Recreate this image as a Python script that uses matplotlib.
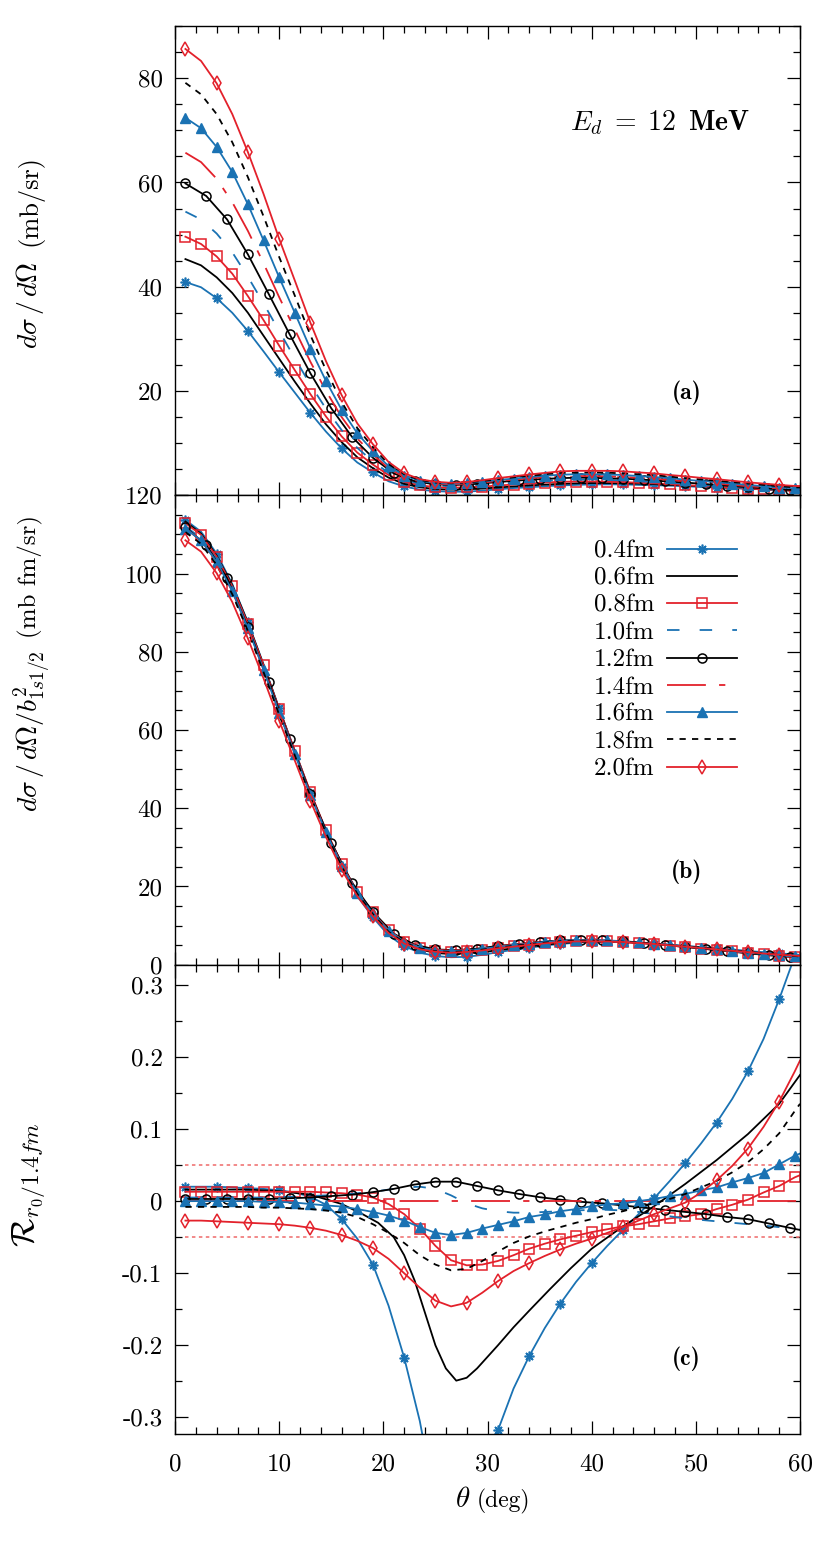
import matplotlib.pyplot as plt
from matplotlib.ticker import MultipleLocator, FixedLocator

plt.rcParams['font.family'] = 'cmr10'
plt.rcParams['mathtext.fontset'] = 'cm'
plt.rcParams['axes.unicode_minus'] = False
plt.rcParams['lines.scale_dashes'] = False

blue = '#1a72b3'
red = '#e3212b'

# angle grids (deg)
theta = [1, 2.5, 4, 5.5, 7, 8.5, 10, 11.5, 13, 14.5, 16, 17.5, 19, 20.5, 22, 23.5,
         25, 26.5, 28, 29.5, 31, 32.5, 34, 35.5, 37, 38.5, 40, 41.5, 43, 44.5, 46,
         47.5, 49, 50.5, 52, 53.5, 55, 56.5, 58, 59.5, 60]
theta_c = [1, 3, 5, 7, 9, 11, 13, 15, 17, 19, 21, 23, 25, 27, 29, 31, 33, 35, 37,
           39, 41, 43, 45, 47, 49, 51, 53, 55, 57, 59, 60]
theta_06c = [1, 4, 7, 10, 13, 16, 18, 19.5, 21, 22, 23, 24, 25, 26, 27, 28, 29, 30, 31,
             32.5, 34, 36, 38, 40, 43, 46, 49, 52, 55, 58, 60]

labels = ['0.4fm', '0.6fm', '0.8fm', '1.0fm', '1.2fm', '1.4fm', '1.6fm', '1.8fm', '2.0fm']

#################################################################
# (a) dsigma/dOmega (mb/sr)
a04 = [40.9, 39.9, 37.8, 35.0, 31.5, 27.6, 23.6, 19.7, 15.8, 12.2, 9.0, 6.3, 4.4, 2.7, 1.7, 1.1,
       0.8, 0.7, 0.7, 0.9, 1.15, 1.4, 1.55, 1.75, 1.9, 2.0, 2.1, 2.1, 2.1, 2.0, 1.95,
       1.85, 1.75, 1.6, 1.5, 1.4, 1.25, 1.15, 1.05, 0.95, 0.9]
a06 = [45.3, 44.1, 41.8, 38.8, 35.0, 30.6, 26.2, 21.8, 17.6, 13.6, 10.2, 7.3, 5.2, 3.4, 2.2, 1.55,
       1.2, 1.1, 1.15, 1.3, 1.5, 1.7, 1.9, 2.05, 2.2, 2.3, 2.35, 2.35, 2.3, 2.25, 2.15,
       2.0, 1.9, 1.75, 1.6, 1.45, 1.3, 1.15, 1.0, 0.9, 0.9]
a08 = [49.6, 48.2, 45.8, 42.5, 38.2, 33.6, 28.7, 24.0, 19.4, 15.1, 11.3, 8.2, 5.9, 3.9, 2.6, 1.9,
       1.6, 1.45, 1.55, 1.65, 1.9, 2.05, 2.25, 2.45, 2.6, 2.65, 2.65, 2.6, 2.55, 2.4, 2.3,
       2.15, 1.95, 1.8, 1.65, 1.5, 1.3, 1.15, 1.0, 0.9, 0.85]
a10 = [54.4, 52.9, 50.2, 46.6, 41.9, 36.8, 31.5, 26.3, 21.2, 16.6, 12.5, 9.1, 6.5, 4.3, 3.0, 2.2,
       1.9, 1.75, 1.85, 2.0, 2.25, 2.4, 2.6, 2.8, 2.95, 3.0, 3.0, 2.95, 2.85, 2.7, 2.55,
       2.4, 2.2, 2.0, 1.8, 1.6, 1.4, 1.2, 1.05, 0.9, 0.85]
a12 = [59.8, 57.4, 52.9, 46.2, 38.6, 30.9, 23.4, 16.7, 11.2, 7.2, 4.2, 2.7, 2.1, 2.0, 2.2, 2.55,
       2.85, 3.1, 3.3, 3.4, 3.3, 3.2, 3.0, 2.7, 2.45, 2.15, 1.85, 1.55, 1.3, 1.05, 0.95]
a14 = [65.7, 63.9, 60.7, 56.2, 50.7, 44.5, 38.0, 31.8, 25.6, 20.0, 15.0, 10.9, 7.8, 5.2, 3.5, 2.65,
       2.25, 2.1, 2.25, 2.45, 2.75, 3.0, 3.25, 3.5, 3.65, 3.7, 3.7, 3.65, 3.55, 3.35, 3.2,
       2.95, 2.7, 2.45, 2.25, 2.0, 1.75, 1.55, 1.3, 1.15, 1.1]
a16 = [72.4, 70.4, 66.8, 62.0, 55.8, 48.9, 41.8, 35.0, 28.1, 21.9, 16.4, 11.9, 8.5, 5.6, 3.8, 2.8,
       2.35, 2.25, 2.35, 2.65, 2.95, 3.2, 3.5, 3.75, 3.95, 4.05, 4.05, 4.0, 3.9, 3.7, 3.5,
       3.3, 3.0, 2.75, 2.55, 2.25, 2.0, 1.75, 1.5, 1.35, 1.25]
a18 = [79.1, 76.9, 73.1, 67.7, 61.0, 53.5, 45.7, 38.3, 30.7, 24.0, 17.9, 12.9, 9.2, 6.0, 4.05, 2.95,
       2.45, 2.3, 2.45, 2.75, 3.1, 3.45, 3.75, 4.05, 4.3, 4.35, 4.4, 4.35, 4.2, 4.05, 3.85,
       3.6, 3.3, 3.05, 2.8, 2.55, 2.25, 2.0, 1.75, 1.55, 1.5]
a20 = [85.6, 83.3, 79.0, 73.1, 65.8, 57.8, 49.2, 41.2, 33.1, 25.7, 19.2, 13.8, 9.8, 6.4, 4.25, 3.1,
       2.6, 2.4, 2.55, 2.9, 3.3, 3.65, 4.0, 4.3, 4.6, 4.7, 4.7, 4.7, 4.6, 4.4, 4.2,
       3.9, 3.65, 3.35, 3.1, 2.8, 2.5, 2.25, 2.0, 1.8, 1.75]

#################################################################
# (b) dsigma/dOmega / b^2 (mb fm/sr)
b04 = [113.7, 110.7, 105.1, 97.3, 87.5, 76.8, 65.5, 54.6, 43.8, 33.8, 24.9, 17.5, 12.1, 7.5, 4.7, 3.1,
       2.2, 1.9, 2.0, 2.5, 3.2, 3.8, 4.3, 4.9, 5.3, 5.6, 5.8, 5.8, 5.8, 5.6, 5.4,
       5.1, 4.8, 4.5, 4.2, 3.9, 3.5, 3.2, 2.9, 2.6, 2.5]
b06 = [113.3, 110.2, 104.6, 97.0, 87.4, 76.6, 65.4, 54.6, 43.9, 34.1, 25.4, 18.2, 13.0, 8.4, 5.5, 3.9,
       3.0, 2.7, 2.9, 3.2, 3.7, 4.2, 4.7, 5.1, 5.5, 5.8, 5.9, 5.9, 5.8, 5.6, 5.4,
       5.0, 4.7, 4.4, 4.0, 3.65, 3.3, 2.9, 2.55, 2.25, 2.2]
b08 = [112.9, 109.9, 104.3, 96.7, 87.1, 76.5, 65.3, 54.7, 44.1, 34.4, 25.8, 18.7, 13.4, 8.8, 5.9, 4.3,
       3.6, 3.3, 3.5, 3.8, 4.3, 4.7, 5.1, 5.55, 5.9, 6.0, 6.0, 5.95, 5.8, 5.5, 5.25,
       4.9, 4.5, 4.1, 3.75, 3.4, 3.0, 2.6, 2.3, 2.0, 1.9]
b10 = [112.1, 109.0, 103.5, 96.0, 86.4, 75.9, 64.9, 54.3, 43.8, 34.3, 25.7, 18.7, 13.5, 8.9, 6.1, 4.6,
       3.9, 3.6, 3.8, 4.15, 4.6, 5.0, 5.4, 5.8, 6.1, 6.2, 6.2, 6.1, 5.9, 5.6, 5.3,
       4.9, 4.5, 4.1, 3.7, 3.3, 2.9, 2.5, 2.2, 1.9, 1.8]
b12 = [111.8, 107.3, 98.8, 86.3, 72.2, 57.7, 43.7, 31.2, 20.9, 13.5, 7.9, 5.1, 3.9, 3.7, 4.1, 4.8,
       5.3, 5.8, 6.2, 6.3, 6.2, 5.95, 5.55, 5.1, 4.55, 4.0, 3.45, 2.9, 2.4, 2.0, 1.8]
b14 = [111.5, 108.5, 103.0, 95.5, 86.0, 75.5, 64.5, 54.0, 43.5, 34.0, 25.5, 18.5, 13.3, 8.8, 6.0, 4.5,
       3.8, 3.6, 3.8, 4.2, 4.7, 5.1, 5.5, 5.9, 6.2, 6.3, 6.3, 6.2, 6.0, 5.7, 5.4,
       5.0, 4.6, 4.2, 3.8, 3.4, 3.0, 2.6, 2.25, 1.95, 1.85]
b16 = [111.5, 108.5, 103.0, 95.5, 86.0, 75.4, 64.4, 53.9, 43.3, 33.8, 25.3, 18.3, 13.1, 8.6, 5.85, 4.35,
       3.65, 3.45, 3.65, 4.05, 4.55, 4.95, 5.4, 5.8, 6.1, 6.25, 6.25, 6.2, 6.0, 5.7, 5.4,
       5.05, 4.65, 4.25, 3.9, 3.5, 3.1, 2.7, 2.35, 2.1, 1.95]
b18 = [110.6, 107.6, 102.2, 94.7, 85.3, 74.8, 63.9, 53.5, 43.0, 33.6, 25.1, 18.1, 12.9, 8.4, 5.65, 4.15,
       3.45, 3.25, 3.45, 3.85, 4.35, 4.8, 5.25, 5.65, 6.0, 6.1, 6.15, 6.1, 5.9, 5.65, 5.4,
       5.0, 4.65, 4.3, 3.9, 3.55, 3.15, 2.8, 2.45, 2.2, 2.1]
b20 = [108.5, 105.6, 100.1, 92.7, 83.4, 73.2, 62.4, 52.2, 41.9, 32.6, 24.3, 17.5, 12.4, 8.1, 5.4, 3.95,
       3.3, 3.05, 3.25, 3.65, 4.2, 4.6, 5.05, 5.45, 5.8, 5.95, 5.95, 5.95, 5.8, 5.55, 5.3,
       4.95, 4.6, 4.25, 3.9, 3.55, 3.2, 2.85, 2.55, 2.3, 2.2]

#################################################################
# (c) ratio to r0 = 1.4 fm
r04 = [0.02, 0.02, 0.02, 0.019, 0.018, 0.017, 0.015, 0.012, 0.006, -0.005, -0.025, -0.052, -0.088,
       -0.145, -0.217, -0.305, -0.42, -0.48, -0.47, -0.40, -0.318, -0.26, -0.215, -0.176, -0.142,
       -0.112, -0.086, -0.062, -0.04, -0.018, 0.004, 0.028, 0.053, 0.08, 0.109, 0.142, 0.18,
       0.225, 0.28, 0.34, 0.36]
r06 = [0.016, 0.016, 0.016, 0.014, 0.009, -0.004, -0.018, -0.03, -0.05, -0.075, -0.11, -0.155,
       -0.2, -0.232, -0.249, -0.245, -0.232, -0.216, -0.2, -0.175, -0.152, -0.122, -0.093, -0.066,
       -0.035, -0.007, 0.024, 0.057, 0.093, 0.135, 0.175]
r08 = [0.013, 0.013, 0.013, 0.013, 0.013, 0.013, 0.013, 0.013, 0.013, 0.012, 0.011, 0.009, 0.005,
       -0.004, -0.018, -0.038, -0.062, -0.082, -0.089, -0.088, -0.083, -0.075, -0.066, -0.059,
       -0.053, -0.048, -0.043, -0.039, -0.035, -0.032, -0.028, -0.024, -0.021, -0.018, -0.011,
       -0.005, 0.002, 0.012, 0.021, 0.033, 0.036]
r10 = [0.005, 0.005, 0.005, 0.005, 0.005, 0.005, 0.006, 0.006, 0.007, 0.008, 0.009, 0.011, 0.013,
       0.016, 0.019, 0.02, 0.017, 0.008, -0.003, -0.01, -0.014, -0.016, -0.016, -0.015, -0.014,
       -0.013, -0.012, -0.012, -0.013, -0.015, -0.018, -0.021, -0.024, -0.026, -0.028, -0.03,
       -0.032, -0.034, -0.036, -0.038, -0.039]
r12 = [0.003, 0.003, 0.003, 0.003, 0.003, 0.004, 0.005, 0.007, 0.009, 0.0125, 0.017, 0.023, 0.027,
       0.027, 0.021, 0.015, 0.01, 0.0055, 0.002, -0.001, -0.003, -0.006, -0.009, -0.012, -0.015,
       -0.018, -0.022, -0.025, -0.031, -0.037, -0.04]
r14 = [0.0] * len(theta)
r16 = [0.0, 0.0, 0.0, 0.0, 0.0, -0.001, -0.001, -0.002, -0.004, -0.006, -0.0075, -0.011, -0.015,
       -0.02, -0.027, -0.036, -0.044, -0.047, -0.044, -0.038, -0.033, -0.028, -0.022, -0.0185,
       -0.014, -0.011, -0.007, -0.0046, -0.003, 0.0, 0.003, 0.007, 0.010, 0.015, 0.019, 0.026,
       0.032, 0.039, 0.051, 0.063, 0.066]
r18 = [-0.008, -0.008, -0.008, -0.008, -0.008, -0.009, -0.009, -0.01, -0.011, -0.013, -0.016, -0.022,
       -0.032, -0.044, -0.058, -0.075, -0.088, -0.096, -0.094, -0.083, -0.07, -0.058, -0.049,
       -0.042, -0.036, -0.03, -0.025, -0.019, -0.014, -0.008, -0.003, 0.003, 0.01, 0.019, 0.028,
       0.04, 0.054, 0.072, 0.094, 0.125, 0.135]
r20 = [-0.027, -0.027, -0.028, -0.029, -0.030, -0.031, -0.032, -0.034, -0.037, -0.041, -0.047,
       -0.055, -0.065, -0.08, -0.1, -0.12, -0.138, -0.146, -0.141, -0.127, -0.111, -0.097, -0.086,
       -0.076, -0.067, -0.059, -0.052, -0.044, -0.036, -0.027, -0.018, -0.01, -0.002, 0.012,
       0.029, 0.049, 0.073, 0.103, 0.138, 0.18, 0.195]

band = 0.05

#################################################################
# styles (gnuplot-like)
star = (8, 2, 0)
styles = [
    dict(color=blue, marker=star, ms=7, mew=1.2, markevery=slice(0, 40, 2)),
    dict(color='black'),
    dict(color=red, marker='s', ms=6.5, mfc='none', mew=1.1, markevery=slice(0, 40)),
    dict(color=blue, dashes=(9, 14.5)),
    dict(color='black', marker='o', ms=6.5, mfc='none', mew=1.1, markevery=slice(0, 30)),
    dict(color=red, dashes=(28, 9.5, 4.5, 9.5)),
    dict(color=blue, marker='^', ms=6.5, mew=1.0, markevery=slice(0, 40)),
    dict(color='black', dashes=(4.5, 4.5)),
    dict(color=red, marker='d', ms=7, mfc='none', mew=1.1, markevery=slice(0, 40, 2)),
]
xs = [theta, theta, theta, theta, theta_c, theta, theta, theta, theta]
xs_c = [theta, theta_06c, theta, theta, theta_c, theta, theta, theta, theta]
data_a = [a04, a06, a08, a10, a12, a14, a16, a18, a20]
data_b = [b04, b06, b08, b10, b12, b14, b16, b18, b20]
data_c = [r04, r06, r08, r10, r12, r14, r16, r18, r20]

W, H = 830, 1543
fig, (ax1, ax2, ax3) = plt.subplots(3, 1, sharex=True, figsize=(W / 100, H / 100), dpi=100)
fig.subplots_adjust(left=175 / W, right=800 / W, top=1 - 26 / H, bottom=1 - 1434 / H, hspace=0)

ax3.hlines([band, -band], 1, 60, colors='#f07676', lw=1.2, linestyles=(0, (2.5, 2.5)))

for i in range(9):
    ax1.plot(xs[i], data_a[i], lw=1.3, label=labels[i], **styles[i])
    ax2.plot(xs[i], data_b[i], lw=1.3, label=labels[i], **styles[i])
    ax3.plot(xs_c[i], data_c[i], lw=1.3, label=labels[i], **styles[i])

fs = 18
for ax in (ax1, ax2, ax3):
    ax.set_xlim(0, 60)
    ax.xaxis.set_major_locator(MultipleLocator(10))
    ax.xaxis.set_minor_locator(MultipleLocator(2))
    ax.tick_params(which='both', direction='in', top=True, right=True, width=0.9, labelsize=fs)
    ax.tick_params(which='major', length=9.5)
    ax.tick_params(which='minor', length=5)
    ax.tick_params(axis='y', pad=9)
    ax.tick_params(axis='x', pad=14)
    for s in ax.spines.values():
        s.set_linewidth(1.0)

ax1.set_ylim(0, 90)
ax1.yaxis.set_major_locator(FixedLocator([0, 20, 40, 60, 80]))
ax1.set_yticklabels(['', '20', '40', '60', '80'])
ax1.yaxis.set_minor_locator(MultipleLocator(5))

ax2.set_ylim(0, 120)
ax2.yaxis.set_major_locator(MultipleLocator(20))
ax2.yaxis.set_minor_locator(MultipleLocator(5))

ax3.set_ylim(-0.323, 0.328)
c_ticks = [-0.3, -0.2, -0.1, 0, 0.1, 0.2, 0.3]
ax3.yaxis.set_major_locator(FixedLocator(c_ticks))
ax3.set_yticklabels(['-0.3', '-0.2', '-0.1', '0', '0.1', '0.2', '0.3'])
ax3.yaxis.set_minor_locator(MultipleLocator(0.05))
ax3.set_xticks([0, 10, 20, 30, 40, 50, 60])
ax3.set_xticklabels(['0', '10', '20', '30', '40', '50', '60'])

ax1.text(0.776, 0.794, r'$E_d\;=\;12\;\;\mathbf{MeV}$', transform=ax1.transAxes,
         ha='center', va='center', fontsize=20)
for ax, t, y in ((ax1, '(a)', 0.218), (ax2, '(b)', 0.197), (ax3, '(c)', 0.161)):
    ax.text(0.818, y, t, transform=ax.transAxes, ha='center', va='center',
            fontsize=17, family='cmb10')

ax2.legend(loc='upper right', bbox_to_anchor=(0.899, 0.905), frameon=False, fontsize=fs,
           markerfirst=False, handlelength=2.8, handletextpad=0.5, labelspacing=0.19,
           borderpad=0, borderaxespad=0)

# axis labels
fig.text(30 / W, 1 - 262 / H, r'$d\sigma\,/\,d\Omega$', rotation=90, ha='center', va='top', fontsize=20)
fig.text(30 / W, 1 - 246 / H, '(mb/sr)', rotation=90, ha='center', va='bottom', fontsize=19)
fig.text(32 / W, 1 - 650 / H, r'$d\sigma\,/\,d\Omega/b^2_{1s1/2}$', rotation=90, ha='center', va='top',
         fontsize=20)
fig.text(30 / W, 1 - 638 / H, '(mb fm/sr)', rotation=90, ha='center', va='bottom', fontsize=18)
fig.text(30 / W, 1 - 1185 / H, r'$\mathcal{R}_{r_0/1.4fm}$', rotation=90, ha='center', va='center',
         fontsize=24)
fig.text(470 / W, 1 - 1500 / H, r'$\theta$', ha='right', va='center', fontsize=21)
fig.text(477 / W, 1 - 1501 / H, '(deg)', ha='left', va='center', fontsize=17)

fig.savefig('out.png', dpi=100)
